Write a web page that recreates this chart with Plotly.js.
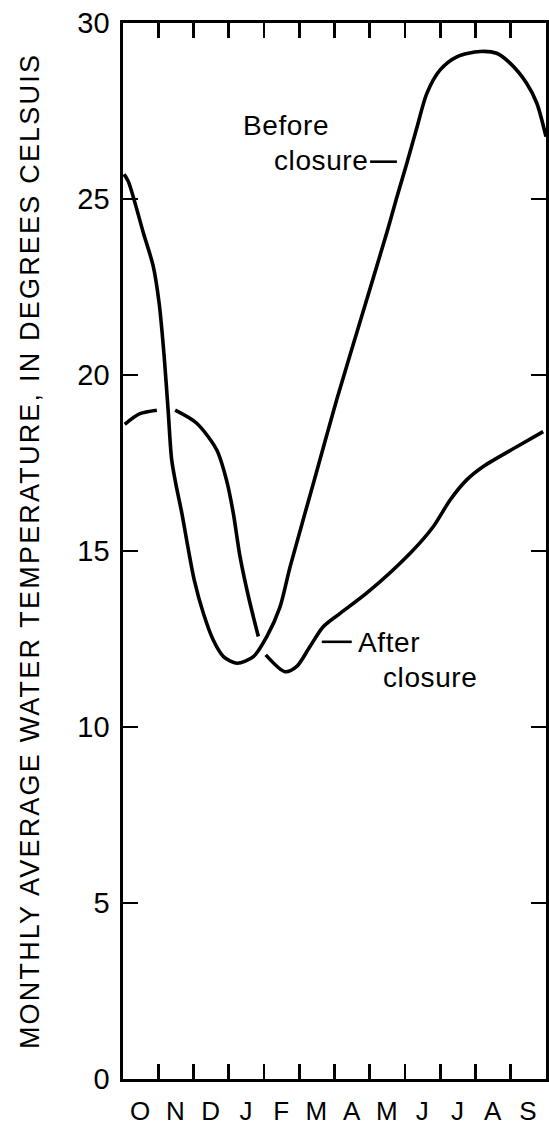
<!DOCTYPE html>
<html>
<head>
<meta charset="utf-8">
<script src="https://cdn.plot.ly/plotly-3.0.1.min.js"></script>
<style>
  html, body { margin: 0; padding: 0; background: #fff; }
  #chart { width: 549px; height: 1130px; }
  .g-ytitle text { letter-spacing: 2.2px; }
  .x2tick text { letter-spacing: 1px; }
  .annotation-text { letter-spacing: 0.6px; }
</style>
</head>
<body>
<div id="chart"></div>
<script>
// Month position (0 = start of October, 12 = end of September)
const monthLabels = ["O","N","D","J","F","M","A","M","J","J","A","S"];
const monthCenters = [0.5,1.5,2.5,3.5,4.5,5.5,6.5,7.5,8.5,9.5,10.5,11.5];
const monthBounds = [1,2,3,4,5,6,7,8,9,10,11];
const yTickValues = [0,5,10,15,20,25,30];

// Before closure: monthly average water temperature (deg C)
const beforeX = [0.03,0.15,0.58,0.86,1.03,1.17,1.28,1.38,1.50,1.67,1.84,2.02,2.28,2.56,2.85,3.23,3.70,4.08,4.45,4.74,5.40,6.06,6.77,7.48,7.76,8.05,8.33,8.62,8.99,9.47,10.13,10.60,10.98,11.45,11.74,12.0];
const beforeY = [25.7,25.5,24.03,23.08,22.0,20.5,19.0,17.6,16.9,16.07,15.12,14.18,13.23,12.47,12.0,11.81,12.0,12.57,13.4,14.55,16.92,19.29,21.66,24.03,25.02,26.01,27.0,28.0,28.66,29.04,29.19,29.14,28.86,28.29,27.72,26.77];

// After closure (null = breaks where the line passes behind the other curve)
const afterX = [0.05,0.48,0.96,null,1.48,2.09,2.66,2.94,3.13,3.32,3.56,3.84,null,4.05,4.6,4.93,5.3,5.68,6.16,6.91,8.14,8.8,9.28,9.75,10.22,11.17,11.92];
const afterY = [18.6,18.9,19.0,null,19.0,18.63,17.87,17.0,16.07,14.84,13.7,12.57,null,12.05,11.57,11.72,12.28,12.85,13.23,13.8,14.93,15.69,16.45,17.02,17.4,17.96,18.39];

const fontFam = "Liberation Sans, Arial, Helvetica, sans-serif";
const lineStyle = {color: "#000", width: 3.6, shape: "spline", smoothing: 0.8};

const traces = [
  {x: beforeX, y: beforeY, type: "scatter", mode: "lines", line: lineStyle,
   name: "Before closure", hoverinfo: "skip", showlegend: false, xaxis: "x", yaxis: "y"},
  {x: afterX, y: afterY, type: "scatter", mode: "lines", line: lineStyle, connectgaps: false,
   name: "After closure", hoverinfo: "skip", showlegend: false, xaxis: "x", yaxis: "y"},
  {x: monthCenters, y: monthCenters.map(() => null), type: "scatter", mode: "lines",
   hoverinfo: "skip", showlegend: false, xaxis: "x2", yaxis: "y"}
];

const layout = {
  width: 549, height: 1130,
  margin: {l: 123, r: 3, t: 23, b: 51, pad: 0},
  paper_bgcolor: "#fff", plot_bgcolor: "#fff",
  font: {family: fontFam, color: "#000", size: 27},
  showlegend: false,
  xaxis: {
    range: [0, 12], tickmode: "array", tickvals: monthBounds,
    ticks: "inside", ticklen: 15, tickwidth: 2.6, tickcolor: "#000",
    showticklabels: false, showline: true, linewidth: 2.6, linecolor: "#000",
    mirror: "ticks", showgrid: false, zeroline: false, fixedrange: true
  },
  xaxis2: {
    range: [0, 12], overlaying: "x", anchor: "y", side: "bottom",
    tickmode: "array", tickvals: monthCenters, ticktext: monthLabels,
    ticks: "", showline: false, showgrid: false, zeroline: false,
    ticklabelstandoff: 14,
    tickfont: {family: fontFam, size: 26, color: "#000"}, fixedrange: true
  },
  yaxis: {
    range: [0, 30], tickmode: "array", tickvals: yTickValues,
    ticktext: yTickValues.map(String),
    ticks: "inside", ticklen: 15, tickwidth: 2.6, tickcolor: "#000",
    showline: true, linewidth: 2.6, linecolor: "#000", mirror: "ticks",
    showgrid: false, zeroline: false, ticklabelstandoff: 5,
    tickfont: {family: fontFam, size: 29, color: "#000"},
    title: {text: "MONTHLY AVERAGE WATER TEMPERATURE, IN DEGREES CELSUIS",
            font: {family: fontFam, size: 27, color: "#000"}, standoff: 30},
    automargin: false, fixedrange: true
  },
  annotations: [
    {text: "Before", x: 3.37, y: 27.1, xref: "x", yref: "y", xanchor: "left", yanchor: "middle",
     showarrow: false, font: {size: 28}, borderpad: 0},
    {text: "closure", x: 4.26, y: 26.1, xref: "x", yref: "y", xanchor: "left", yanchor: "middle",
     showarrow: false, font: {size: 28}, borderpad: 0},
    {text: "After", x: 6.63, y: 12.41, xref: "x", yref: "y", xanchor: "left", yanchor: "middle",
     showarrow: false, font: {size: 28}, borderpad: 0},
    {text: "closure", x: 7.34, y: 11.4, xref: "x", yref: "y", xanchor: "left", yanchor: "middle",
     showarrow: false, font: {size: 28}, borderpad: 0}
  ],
  shapes: [
    {type: "line", xref: "x", yref: "y", x0: 7.01, x1: 7.77, y0: 26.06, y1: 26.06,
     line: {color: "#000", width: 2.6}},
    {type: "line", xref: "x", yref: "y", x0: 5.64, x1: 6.49, y0: 12.42, y1: 12.42,
     line: {color: "#000", width: 2.6}}
  ]
};

Plotly.newPlot("chart", traces, layout, {staticPlot: true, displayModeBar: false});
</script>
</body>
</html>
